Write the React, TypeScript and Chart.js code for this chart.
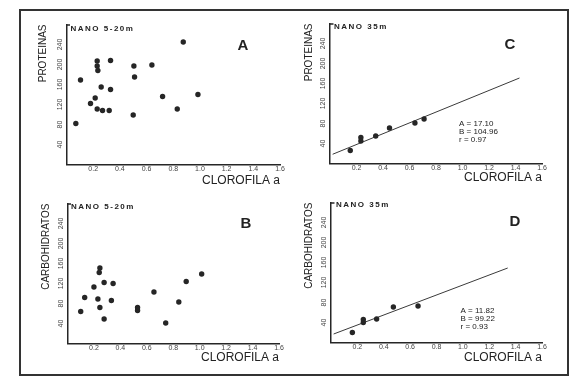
import React, { useEffect, useRef } from "react";
import { Chart, registerables } from "chart.js";

Chart.register(...registerables);

// ---------- data ----------
const xTickValues = [0.2, 0.4, 0.6, 0.8, 1.0, 1.2, 1.4, 1.6];
const yTickValues = [40, 80, 120, 160, 200, 240];
const xAxisTitle = "CLOROFILA a";
const yTitleProt = "PROTEINAS";
const yTitleCarb = "CARBOHIDRATOS";

// Panel A: NANO 5-20m, proteinas vs clorofila a
const chlA = [0.07, 0.105, 0.18, 0.215, 0.23, 0.23, 0.235, 0.23, 0.26, 0.27, 0.32, 0.33, 0.33, 0.505, 0.51, 0.5, 0.64, 0.72, 0.83, 0.875, 0.985];
const protA = [82, 169, 122, 133, 207, 197, 188, 111, 155, 108, 108, 208, 150, 197, 175, 99, 199, 136, 111, 245, 140];

// Panel B: NANO 5-20m, carbohidratos vs clorofila a
const chlB = [0.1, 0.13, 0.2, 0.23, 0.245, 0.245, 0.24, 0.277, 0.277, 0.332, 0.345, 0.53, 0.53, 0.654, 0.743, 0.842, 0.898, 1.015];
const carbB = [64, 92, 113, 89, 72, 151, 142, 122, 49, 86, 120, 72, 66, 103, 41, 83, 124, 139];

// Panel C: NANO 35m, proteinas vs clorofila a
const chlC = [0.153, 0.233, 0.233, 0.345, 0.449, 0.641, 0.71];
const protC = [26, 52, 45, 55, 71, 81, 89];
const fitCx = [0.02, 1.43];
const fitCy = [18.5, 171];
const statsC = ["A = 17.10", "B = 104.96", "r = 0.97"];

// Panel D: NANO 35m, carbohidratos vs clorofila a
const chlD = [0.162, 0.245, 0.245, 0.346, 0.473, 0.66];
const carbD = [20, 46, 40, 47, 71, 73];
const fitDx = [0.02, 1.34];
const fitDy = [17, 149];
const statsD = ["A = 11.82", "B = 99.22", "r = 0.93"];

// ---------- styles ----------
const INK = "#262626";
const TXT = "#222222";
const FAM = "'Liberation Sans', Arial, sans-serif";
const XH = 25;

type Geom = {
  cx: number; cy: number; w: number; h: number;
  left: number; right: number; top: number; bottom: number;
  yTitleX: number; xTitleCenter: number;
  nano: [number, number]; letter: [number, number];
  stats?: [number, number];
};

type Spec = {
  key: string;
  xs: number[]; ys: number[];
  fx?: number[]; fy?: number[];
  yTitle: string; nanoText: string; letter: string; stats?: string[];
  g: Geom;
};

const panels: Spec[] = [
  {
    key: "A", xs: chlA, ys: protA, yTitle: yTitleProt, nanoText: "NANO 5-20m", letter: "A",
    g: { cx: 0, cy: 0, w: 294, h: 194, left: 66.5, right: 280, top: 24.5, bottom: 164.5,
      yTitleX: 43, xTitleCenter: 181, nano: [70.5, 29], letter: [243, 46] },
  },
  {
    key: "C", xs: chlC, ys: protC, fx: fitCx, fy: fitCy, yTitle: yTitleProt, nanoText: "NANO 35m", letter: "C", stats: statsC,
    g: { cx: 294, cy: 0, w: 294, h: 194, left: 36, right: 248, top: 23.5, bottom: 163.5,
      yTitleX: 15, xTitleCenter: 178, nano: [40, 27], letter: [216, 45], stats: [165, 124] },
  },
  {
    key: "B", xs: chlB, ys: carbB, yTitle: yTitleCarb, nanoText: "NANO 5-20m", letter: "B",
    g: { cx: 0, cy: 194, w: 294, h: 193, left: 67.5, right: 279, top: 9.5, bottom: 149.5,
      yTitleX: 46, xTitleCenter: 163.8, nano: [71, 13], letter: [246, 30] },
  },
  {
    key: "D", xs: chlD, ys: carbD, fx: fitDx, fy: fitDy, yTitle: yTitleCarb, nanoText: "NANO 35m", letter: "D", stats: statsD,
    g: { cx: 294, cy: 194, w: 294, h: 193, left: 37, right: 248, top: 8.5, bottom: 148.5,
      yTitleX: 15.7, xTitleCenter: 164, nano: [42, 11], letter: [221, 28], stats: [166.5, 116.7] },
  },
];

const decorPlugin = {
  id: "decor",
  afterDraw(chart: any, _args: any, opts: any) {
    const ctx = chart.ctx as CanvasRenderingContext2D;
    const area = chart.chartArea;
    ctx.save();
    // small cap at the top of the y axis
    ctx.strokeStyle = INK;
    ctx.lineWidth = 1.5;
    ctx.beginPath();
    ctx.moveTo(area.left, area.top + 0.5);
    ctx.lineTo(area.left + 3.5, area.top + 0.5);
    ctx.stroke();
    ctx.fillStyle = TXT;
    // NANO label
    (ctx as any).letterSpacing = "1.5px";
    ctx.font = `bold 8px ${FAM}`;
    ctx.textBaseline = "middle";
    ctx.textAlign = "left";
    ctx.fillText(opts.nanoText, opts.nano[0], opts.nano[1]);
    (ctx as any).letterSpacing = "0px";
    // panel letter
    ctx.font = `bold 15px ${FAM}`;
    ctx.textAlign = "center";
    ctx.fillText(opts.letter, opts.letterPos[0], opts.letterPos[1]);
    // regression statistics
    if (opts.stats && opts.statsPos) {
      ctx.font = `8px ${FAM}`;
      ctx.textAlign = "left";
      opts.stats.forEach((s: string, i: number) => {
        ctx.fillText(s, opts.statsPos[0], opts.statsPos[1] + i * 8);
      });
    }
    ctx.restore();
  },
};

function Panel({ spec }: { spec: Spec }) {
  const ref = useRef<HTMLCanvasElement>(null);
  useEffect(() => {
    const g = spec.g;
    const datasets: any[] = [
      {
        data: spec.xs.map((v, i) => ({ x: v, y: spec.ys[i] })),
        pointRadius: 2.7,
        pointBackgroundColor: INK,
        pointBorderColor: INK,
        pointBorderWidth: 0,
        showLine: false,
      },
    ];
    if (spec.fx && spec.fy) {
      datasets.push({
        data: spec.fx.map((v, i) => ({ x: v, y: spec.fy![i] })),
        showLine: true,
        pointRadius: 0,
        borderColor: "#3a3a3a",
        borderWidth: 1,
        fill: false,
      });
    }
    const xtPad = XH - (g.xTitleCenter - g.bottom) - 6;
    const chart = new Chart(ref.current as HTMLCanvasElement, {
      type: "scatter",
      data: { datasets },
      options: {
        responsive: false,
        animation: false,
        devicePixelRatio: 1,
        events: [],
        layout: {
          autoPadding: false,
          padding: { left: 0, top: g.top, right: g.w - g.right, bottom: g.h - g.bottom - XH },
        },
        plugins: {
          legend: { display: false },
          tooltip: { enabled: false },
          decor: {
            nanoText: spec.nanoText,
            nano: g.nano,
            letter: spec.letter,
            letterPos: g.letter,
            stats: spec.stats,
            statsPos: g.stats,
          },
        } as any,
        scales: {
          x: {
            type: "linear",
            min: 0,
            max: 1.6,
            afterBuildTicks: (s: any) => {
              s.ticks = xTickValues.map((v) => ({ value: v }));
            },
            afterFit: (s: any) => {
              s.height = XH;
            },
            grid: { display: false, drawTicks: false },
            border: { display: true, color: INK, width: 1.5 },
            ticks: {
              font: { size: 7, family: FAM },
              color: "#444",
              padding: 0.5,
              maxRotation: 0,
              autoSkip: false,
              callback: (v: any) => Number(v).toFixed(1),
            },
            title: {
              display: true,
              text: xAxisTitle,
              align: "end",
              color: TXT,
              font: { size: 12, family: FAM, lineHeight: 1 },
              padding: { top: 0, bottom: xtPad },
            },
          },
          y: {
            type: "linear",
            min: 0,
            max: 280,
            afterBuildTicks: (s: any) => {
              s.ticks = yTickValues.map((v) => ({ value: v }));
            },
            afterFit: (s: any) => {
              s.width = g.left;
            },
            grid: { display: false, drawTicks: false },
            border: { display: true, color: INK, width: 1.5 },
            ticks: {
              font: { size: 7, family: FAM },
              color: "#444",
              padding: 1,
              minRotation: 90,
              maxRotation: 90,
              crossAlign: "center",
              autoSkip: false,
              callback: (v: any) => String(v),
            },
            title: {
              display: true,
              text: spec.yTitle,
              align: "end",
              color: TXT,
              font: { size: 10, family: FAM, lineHeight: 1 },
              padding: { top: g.yTitleX - 5, bottom: 0 },
            },
          },
        },
      } as any,
      plugins: [decorPlugin],
    });
    return () => chart.destroy();
  }, [spec]);
  return (
    <canvas
      ref={ref}
      width={spec.g.w}
      height={spec.g.h}
      style={{ position: "absolute", left: spec.g.cx, top: spec.g.cy, width: spec.g.w, height: spec.g.h }}
    />
  );
}

export default function App() {
  return (
    <div style={{ position: "absolute", left: 0, top: 0, width: 588, height: 387, background: "#fff", overflow: "hidden" }}>
      <div
        style={{
          position: "absolute",
          left: 19,
          top: 9,
          width: 550,
          height: 367,
          border: "2px solid #333",
          boxSizing: "border-box",
        }}
      />
      {panels.map((p) => (
        <Panel key={p.key} spec={p} />
      ))}
    </div>
  );
}
